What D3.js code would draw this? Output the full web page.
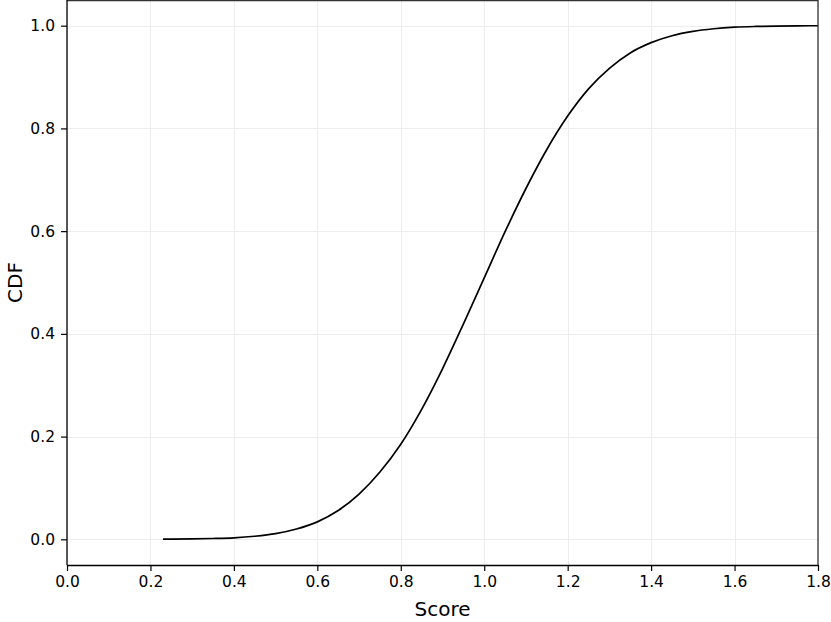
<!DOCTYPE html>
<html>
<head>
<meta charset="utf-8">
<script src="https://cdn.jsdelivr.net/npm/d3@7"></script>
<style>
  html, body { margin: 0; padding: 0; background: #fff; }
  svg { display: block; font-family: "DejaVu Sans", sans-serif; }
</style>
</head>
<body>
<svg id="chart" width="831" height="622"></svg>
<script>
// Data
const scores = [0.23, 0.25, 0.30, 0.35, 0.40, 0.45, 0.50, 0.55, 0.60, 0.65, 0.70, 0.75, 0.80, 0.85, 0.90, 0.95, 1.00, 1.05, 1.10, 1.15, 1.20, 1.25, 1.30, 1.35, 1.40, 1.45, 1.50, 1.55, 1.60, 1.65, 1.70, 1.75, 1.80];
const cdf = [0.0003, 0.0004, 0.0008, 0.0016, 0.0030, 0.0060, 0.0110, 0.0200, 0.0340, 0.0560, 0.0880, 0.1310, 0.1850, 0.2530, 0.3320, 0.4190, 0.5090, 0.5990, 0.6830, 0.7590, 0.8240, 0.8770, 0.9170, 0.9470, 0.9670, 0.9805, 0.9890, 0.9940, 0.9970, 0.9985, 0.9993, 0.9997, 0.9999];
const xTicks = [0.0, 0.2, 0.4, 0.6, 0.8, 1.0, 1.2, 1.4, 1.6, 1.8];
const yTicks = [0.0, 0.2, 0.4, 0.6, 0.8, 1.0];
const xLabel = "Score";
const yLabel = "CDF";

(function () {
const svg = d3.select("#chart");
const pL = 67, pR = 818, pT = 0, pB = 565;

const x = d3.scaleLinear().domain([0, 1.8]).range([pL, pR]);
const y = d3.scaleLinear().domain([-0.05, 1.05]).range([pB, pT]);

// grid
const grid = svg.append("g");
grid.selectAll("line.vx").data(xTicks).join("line")
  .attr("x1", d => Math.round(x(d)) + 0.5).attr("x2", d => Math.round(x(d)) + 0.5)
  .attr("y1", pT).attr("y2", pB)
  .attr("stroke", "#ededed").attr("stroke-width", 1);
grid.selectAll("line.hy").data(yTicks).join("line")
  .attr("y1", d => Math.round(y(d)) + 0.5).attr("y2", d => Math.round(y(d)) + 0.5)
  .attr("x1", pL).attr("x2", pR)
  .attr("stroke", "#ededed").attr("stroke-width", 1);

// curve
const pts = scores.map((s, i) => [s, cdf[i]]);
const line = d3.line().x(d => x(d[0])).y(d => y(d[1])).curve(d3.curveMonotoneX);
svg.append("path").datum(pts)
  .attr("d", line)
  .attr("fill", "none").attr("stroke", "#000").attr("stroke-width", 1.7);

// frame (top/right)
svg.append("line").attr("x1", pL).attr("x2", pR).attr("y1", pT + 0.7).attr("y2", pT + 0.7)
  .attr("stroke", "#333").attr("stroke-width", 1.3);
svg.append("line").attr("x1", pR).attr("x2", pR).attr("y1", pT).attr("y2", pB)
  .attr("stroke", "#333").attr("stroke-width", 1.3);

// axes
const xAxis = d3.axisBottom(x).tickValues(xTicks).tickFormat(d3.format(".1f")).tickSizeInner(6).tickSizeOuter(0).tickPadding(5);
const yAxis = d3.axisLeft(y).tickValues(yTicks).tickFormat(d3.format(".1f")).tickSizeInner(6).tickSizeOuter(0).tickPadding(6);

const gx = svg.append("g").attr("transform", `translate(0,${pB})`).call(xAxis);
const gy = svg.append("g").attr("transform", `translate(${pL},0)`).call(yAxis);
[gx, gy].forEach(g => {
  g.select(".domain").attr("stroke", "#000").attr("stroke-width", 1.3);
  g.selectAll(".tick line").attr("stroke", "#000").attr("stroke-width", 1.2);
  g.selectAll(".tick text").attr("fill", "#000").style("font-size", "15.5px").style("font-family", "DejaVu Sans, sans-serif");
});
gy.select(".domain").attr("d", `M0,${pT}V${pB}`);

// labels
svg.append("text").attr("x", (pL + pR) / 2).attr("y", 616)
  .attr("text-anchor", "middle").style("font-size", "20px").attr("fill", "#000").text(xLabel);
svg.append("text").attr("transform", `translate(22,${(pT + pB) / 2}) rotate(-90)`)
  .attr("text-anchor", "middle").style("font-size", "20px").attr("fill", "#000").text(yLabel);
})();
</script>
</body>
</html>
